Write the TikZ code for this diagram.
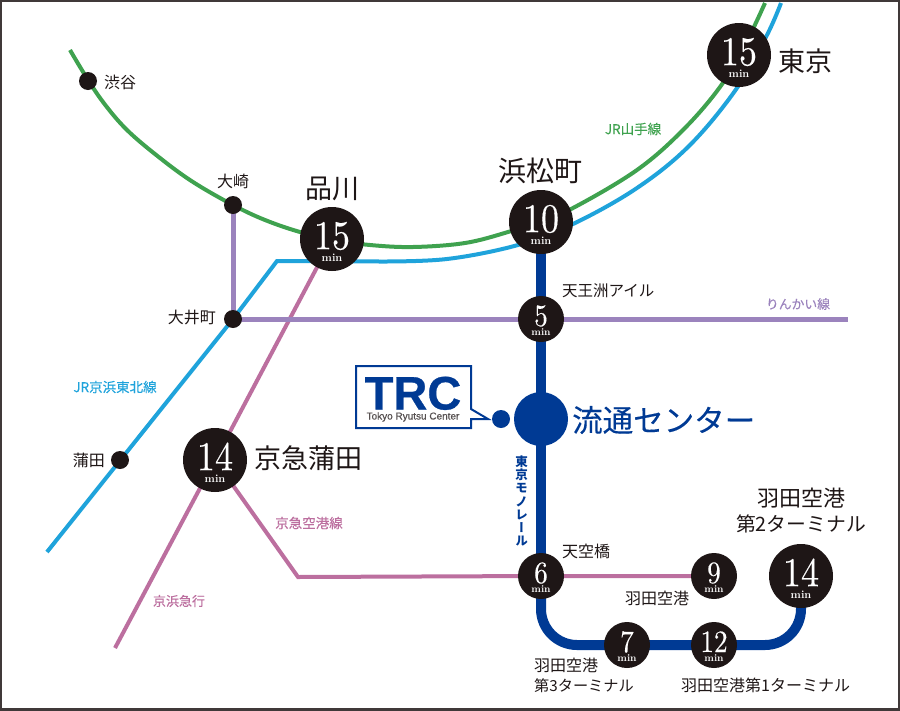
\documentclass[tikz,border=0pt]{standalone}
\usepackage{fontspec}
\usetikzlibrary{backgrounds}
\newfontfamily\jpfont{Noto Sans CJK JP}
\newfontfamily\jpheavy[FakeBold=0.25]{Noto Sans CJK JP}
\newfontfamily\jpvert[RawFeature=+vert]{Noto Sans CJK JP}
\newfontfamily\logofont[FakeBold=0.6]{Liberation Sans}
\newfontfamily\numfont[Extension=.otf,FakeStretch=0.88,FakeBold=0.3]{lmroman10-regular}
\definecolor{stnblack}{HTML}{1E1616}
\definecolor{mononavy}{HTML}{003A94}
\definecolor{jrgreen}{HTML}{3FA24F}
\definecolor{jrblue}{HTML}{1FA3DB}
\definecolor{rinkai}{HTML}{9B83BD}
\definecolor{keikyu}{HTML}{BC6F9F}
\tikzset{
  bigstn/.style={circle,fill=stnblack,text=white,minimum size=64pt,inner sep=0pt,
    font=\numfont\fontsize{41}{41}\selectfont,text height=26.4pt,text depth=6pt,
    label={[minbig]center:min}},
  smallstn/.style={circle,fill=stnblack,text=white,minimum size=46pt,inner sep=0pt,
    font=\numfont\fontsize{31}{31}\selectfont,text height=20pt,text depth=6pt,
    label={[minsmall]center:min}},
  minbig/.style={text=white,inner sep=0pt,yshift=-19pt,font=\fontsize{11}{11}\selectfont\bfseries},
  minsmall/.style={text=white,inner sep=0pt,yshift=-13pt,font=\fontsize{10}{10}\selectfont\bfseries},
  dotstn/.style={circle,fill=stnblack,minimum size=18pt,inner sep=0pt},
  bigname/.style={text=stnblack,inner sep=0pt,font=\jpfont\fontsize{27}{27}\selectfont},
  midname/.style={text=stnblack,inner sep=0pt,align=center,font=\jpfont\fontsize{22}{25}\selectfont},
  smallname/.style={text=stnblack,inner sep=0pt,align=left,font=\jpfont\fontsize{16}{20}\selectfont},
  linename/.style={inner sep=0pt,font=\jpheavy\fontsize{13.5}{13.5}\selectfont},
  railline/.style={line width=4pt},
}
\begin{document}
\begin{tikzpicture}[x=1pt,y=-1pt]
  \useasboundingbox (0,0) rectangle (900,710);
  \node (frame) [draw=stnblack!85,line width=4pt,minimum width=900pt,minimum height=710pt,inner sep=0pt] at (450,355) {};
  % stations
  \node (tokyo) [bigstn] at (739,55) {15};
  \node (hamamatsu) [bigstn] at (541,222) {10};
  \node (shinagawa) [bigstn] at (332,239) {15};
  \node (kamatak) [bigstn] at (215,460) {14};
  \node (term2) [bigstn] at (801,576) {14};
  \node (tennozu) [smallstn] at (541,319) {5};
  \node (tenku) [smallstn] at (541,576) {6};
  \node (haneda) [smallstn] at (714,576) {9};
  \node (term3) [smallstn] at (627,645) {7};
  \node (term1) [smallstn] at (714,645) {12};
  \node (shibuya) [dotstn] at (88,81) {};
  \node (osaki) [dotstn] at (233,205) {};
  \node (oimachi) [dotstn] at (233,319) {};
  \node (kamata) [dotstn] at (120,460) {};
  \node (center) [circle,fill=mononavy,minimum size=54pt,inner sep=0pt] at (541,419) {};
  \node (trcdot) [circle,fill=mononavy,minimum size=18pt,inner sep=0pt] at (501,419) {};
  % free ends
  \coordinate (greenA) at (70,50);
  \coordinate (greenB) at (765,3);
  \coordinate (blueA) at (47,552);
  \coordinate (blueB) at (781,3);
  \coordinate (blueC) at (277,261);
  \coordinate (blueD) at (380,261.5);
  \coordinate (pinkA) at (115,648);
  \coordinate (pinkB) at (298,577);
  \coordinate (purpleA) at (848,319);
  \coordinate (curveL) at (541,645);
  \coordinate (curveR) at (801,645);
  % lines
  \begin{scope}[on background layer]
    \draw[railline,jrgreen] plot[smooth,tension=.6] coordinates {(greenA) (85,75) (103,102) (127,130) (160,158) (193,182) (osaki.center) (265,220) (300,232) (335,240) (370,245) (413,247) (465,243) (508,232) (540,221) (573,208) (637,170) (683,130) (720,87) (745,45) (greenB)};
    \draw[railline,jrblue] (blueA) -- (oimachi.center) -- (blueC) -- (blueD);
    \draw[railline,jrblue] plot[smooth,tension=.6] coordinates {(blueD) (447,259) (518,245) (573,224) (637,188) (690,145) (737,88) (767,35) (blueB)};
    \draw[railline,keikyu] (pinkA) -- (kamatak.center) -- (shinagawa.center);
    \draw[railline,keikyu] (kamatak.center) -- (pinkB) -- (tenku.center) -- (haneda.center);
    \draw[line width=5pt,rinkai] (osaki.center) -- (oimachi.center) -- (purpleA);
    \draw[line width=10pt,mononavy] (hamamatsu.center) -- (center.center) -- (tenku.center);
    \draw[line width=10pt,mononavy,rounded corners=36pt] (tenku.center) -- (curveL) -- (curveR) -- (term2.center);
  \end{scope}
  % callout
  \draw[mononavy,line width=2pt,fill=white] (356,366) -- (471,366) -- (471,409) -- (488,419) -- (471,419) -- (471,428) -- (356,428) -- cycle;
  \node (trclogo) [text=mononavy,inner sep=0pt,font=\logofont\bfseries\fontsize{47}{47}\selectfont,text height=33pt,text depth=0pt] at (413,393) {TRC};
  \node (trcname) [text=stnblack!75,inner sep=0pt,font=\logofont\fontsize{10}{10}\selectfont,text height=7pt,text depth=0pt] at (413,416) {Tokyo Ryutsu Center};
  % names
  \node (tokyoname) [bigname,anchor=west] at (778,61) {東京};
  \node (hamaname) [bigname,font=\jpfont\fontsize{28}{28}\selectfont] at (540,171) {浜松町};
  \node (shinaname) [bigname] at (332,189) {品川};
  \node (kamaname) [bigname,anchor=west] at (254,458) {京急蒲田};
  \node (centername) [inner sep=0pt,anchor=west,text=mononavy,font=\jpheavy\fontsize{30.5}{31}\selectfont] at (572,420) {流通センター};
  \node (t2name) [midname] at (801,511) {羽田空港\\{\fontsize{19.8}{25}\selectfont 第2ターミナル}};
  \node (t3name) [smallname,anchor=north west] at (534,658) {羽田空港\\{\fontsize{15.2}{20}\selectfont 第3ターミナル}};
  \node (t1name) [smallname,anchor=west] at (681,685) {羽田空港第1ターミナル};
  \node (hanename) [smallname,anchor=west] at (625,598) {羽田空港};
  \node (tenkuname) [smallname,anchor=west] at (562,551) {天空橋};
  \node (tennoname) [smallname,anchor=west,font=\jpfont\fontsize{15.5}{15.5}\selectfont] at (562,291) {天王洲アイル};
  \node (osakiname) [smallname] at (233,181) {大崎};
  \node (shibuname) [smallname,anchor=west] at (104,82) {渋谷};
  \node (oimaname) [smallname,anchor=east] at (216,318) {大井町};
  \node (kamaname2) [smallname,anchor=east] at (105,460) {蒲田};
  % line names
  \node (yamanote) [linename,text=jrgreen] at (633,129) {JR山手線};
  \node (keihin) [linename,text=jrblue] at (115,387) {JR京浜東北線};
  \node (rinkainame) [linename,text=rinkai,font=\jpheavy\fontsize{12.8}{12.8}\selectfont] at (798,304) {りんかい線};
  \node (airport) [linename,text=keikyu] at (309,523) {京急空港線};
  \node (keikyuname) [linename,text=keikyu,font=\jpheavy\fontsize{13}{13}\selectfont] at (179,601) {京浜急行};
  \node (mono) [inner sep=0pt,align=center,text=mononavy,font=\jpvert\bfseries\fontsize{12.5}{13.2}\selectfont] at (521.5,501) {東\\京\\モ\\ノ\\レ\\ー\\ル};
\end{tikzpicture}
\end{document}
